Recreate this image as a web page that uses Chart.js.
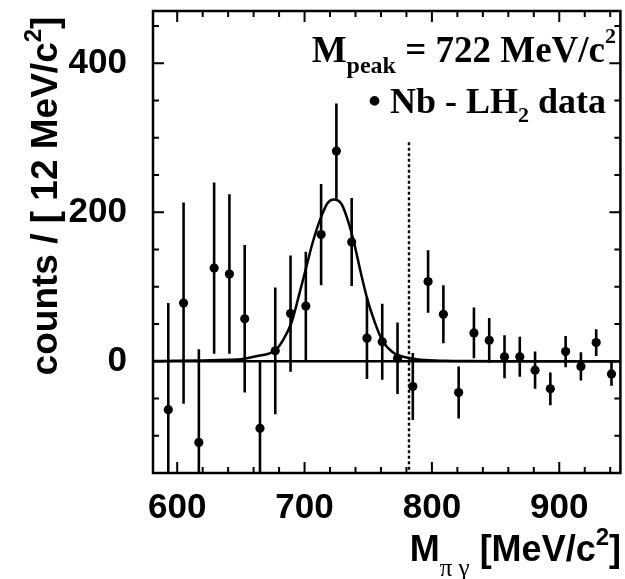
<!DOCTYPE html>
<html>
<head>
<meta charset="utf-8">
<script src="https://cdn.jsdelivr.net/npm/chart.js@4.4.0/dist/chart.umd.min.js"></script>
<style>
html, body { margin: 0; padding: 0; background: #fff; }
#wrap { width: 625px; height: 579px; }
</style>
</head>
<body>
<div id="wrap"><canvas id="massChart" width="625" height="579"></canvas></div>
<script>
// bin centres (12 MeV bins) and the Nb - LH2 counts with their errors
const binCenters = [593, 605, 617, 629, 641, 653, 665, 677, 689, 701, 713, 725, 737, 749, 761,
                    773, 785, 797, 809, 821, 833, 845, 857, 869, 881, 893, 905, 917, 929, 941];
const counts = [-65, 78, -109, 125, 117, 57, -90, 14, 64, 74, 170, 282, 160, 31, 26,
                4, -34, 107, 63, -42, 38, 28, 6, 6, -12, -37, 13, -7, 25, -17];
const countErrors = [143, 135, 125, 115, 107, 99, 91, 85, 78, 73, 68, 64, 59, 55, 51,
                     48, 45, 42, 39, 35, 34, 30, 29, 27, 25, 22, 21, 19, 18, 16];

// fitted peak
const fitMass = [581, 600, 620, 640, 650, 662, 677, 683, 690, 696, 701, 706.5, 712, 718, 723,
                 729, 734, 739, 744, 749.5, 755, 761, 769, 780, 795, 810, 830, 860, 900, 948];
const fitCounts = [0.3, 0.5, 1, 2, 2.7, 6.7, 14.8, 28, 53, 91, 124, 160, 189, 212, 217,
                   211, 189, 158, 120, 82, 53, 28, 12.5, 5, 1.5, 0.7, 0.3, 0.1, 0, 0];

const xTickLabels = [600, 700, 800, 900];
const xMinorTicks = [620, 640, 660, 680, 720, 740, 760, 780, 820, 840, 860, 880, 920, 940];
const yTickLabels = [0, 200, 400];
const yMinorTicks = [-100, -50, 50, 100, 150, 250, 300, 350, 450];

const omegaMass = 782;
const omegaLineTop = 294;

const sans = '"Liberation Sans", Arial, sans-serif';
const serif = '"Liberation Serif", "Times New Roman", serif';

function drawRich(ctx, parts, x, y, align) {
    let total = 0;
    parts.forEach(p => { ctx.font = p.font; p.w = ctx.measureText(p.text).width; total += p.w; });
    let cx = align === 'right' ? x - total : (align === 'center' ? x - total / 2 : x);
    ctx.textAlign = 'left';
    ctx.textBaseline = 'alphabetic';
    parts.forEach(p => { ctx.font = p.font; ctx.fillText(p.text, cx, y + (p.dy || 0)); cx += p.w; });
}

const extras = {
    id: 'extras',
    beforeDatasetsDraw(chart) {
        const {ctx, chartArea: a, scales: {x, y}} = chart;
        ctx.save();
        ctx.beginPath();
        ctx.rect(a.left, a.top, a.right - a.left, a.bottom - a.top);
        ctx.clip();
        ctx.strokeStyle = '#000';
        // zero line
        ctx.lineWidth = 2.5;
        ctx.beginPath();
        ctx.moveTo(a.left, y.getPixelForValue(0));
        ctx.lineTo(a.right, y.getPixelForValue(0));
        ctx.stroke();
        // omega mass marker
        ctx.lineWidth = 2.4;
        ctx.setLineDash([3, 2.5]);
        ctx.beginPath();
        ctx.moveTo(x.getPixelForValue(omegaMass), y.getPixelForValue(omegaLineTop));
        ctx.lineTo(x.getPixelForValue(omegaMass), a.bottom);
        ctx.stroke();
        ctx.setLineDash([]);
        // error bars
        ctx.lineWidth = 2.6;
        binCenters.forEach((m, i) => {
            const px = x.getPixelForValue(m);
            ctx.beginPath();
            ctx.moveTo(px, y.getPixelForValue(counts[i] - countErrors[i]));
            ctx.lineTo(px, y.getPixelForValue(counts[i] + countErrors[i]));
            ctx.stroke();
        });
        ctx.restore();
    },
    afterDraw(chart) {
        const {ctx, chartArea: a, scales: {x, y}} = chart;
        ctx.save();
        ctx.strokeStyle = '#000';
        ctx.fillStyle = '#000';
        // inward ticks on all four sides
        ctx.lineWidth = 2;
        const vt = (v, len) => {
            const px = x.getPixelForValue(v);
            ctx.beginPath();
            ctx.moveTo(px, a.bottom); ctx.lineTo(px, a.bottom - len);
            ctx.moveTo(px, a.top); ctx.lineTo(px, a.top + len);
            ctx.stroke();
        };
        const ht = (v, len) => {
            const py = y.getPixelForValue(v);
            ctx.beginPath();
            ctx.moveTo(a.left, py); ctx.lineTo(a.left + len, py);
            ctx.moveTo(a.right, py); ctx.lineTo(a.right - len, py);
            ctx.stroke();
        };
        xTickLabels.forEach(v => vt(v, 11));
        xMinorTicks.forEach(v => vt(v, 6));
        yTickLabels.forEach(v => ht(v, 11));
        yMinorTicks.forEach(v => ht(v, 6));
        // frame
        ctx.lineWidth = 2.5;
        ctx.strokeRect(a.left, a.top, a.right - a.left, a.bottom - a.top);

        // axis titles
        drawRich(ctx, [
            {text: 'M', font: 'bold 36px ' + sans},
            {text: '\u03c0 \u03b3', font: '25px ' + serif, dy: 15},
            {text: ' [MeV/c', font: 'bold 36px ' + sans},
            {text: '2', font: 'bold 24px ' + sans, dy: -16},
            {text: ']', font: 'bold 36px ' + sans}
        ], 621, 561, 'right');

        ctx.save();
        ctx.translate(57, 196);
        ctx.rotate(-Math.PI / 2);
        drawRich(ctx, [
            {text: 'counts / [ 12 MeV/c', font: 'bold 37px ' + sans},
            {text: '2', font: 'bold 24px ' + sans, dy: -16},
            {text: ']', font: 'bold 37px ' + sans}
        ], 0, 0, 'center');
        ctx.restore();

        // legend text
        drawRich(ctx, [
            {text: 'M', font: 'bold 37px ' + serif},
            {text: 'peak', font: 'bold 24px ' + serif, dy: 11},
            {text: ' = 722 MeV/c', font: 'bold 37px ' + serif},
            {text: '2', font: 'bold 22px ' + serif, dy: -19}
        ], 616, 62, 'right');
        drawRich(ctx, [
            {text: '\u2022 Nb - LH', font: 'bold 36px ' + serif},
            {text: '2', font: 'bold 22px ' + serif, dy: 9},
            {text: ' data', font: 'bold 36px ' + serif}
        ], 606, 113, 'right');
        ctx.restore();
    }
};

const chart = new Chart(document.getElementById('massChart'), {
    type: 'scatter',
    data: {
        datasets: [{
            label: 'fit',
            data: fitMass.map((m, i) => ({x: m, y: fitCounts[i]})),
            showLine: true,
            borderColor: '#000',
            borderWidth: 2.5,
            pointRadius: 0,
            cubicInterpolationMode: 'monotone',
            fill: false
        }, {
            label: 'Nb - LH2 data',
            data: binCenters.map((m, i) => ({x: m, y: counts[i]})),
            showLine: false,
            pointRadius: 4.6,
            pointBackgroundColor: '#000',
            pointBorderColor: '#000',
            pointBorderWidth: 0
        }]
    },
    options: {
        responsive: false,
        animation: false,
        devicePixelRatio: 1,
        layout: { padding: { top: 11, right: 3, left: 0, bottom: 0 } },
        plugins: { legend: { display: false }, tooltip: { enabled: false } },
        scales: {
            x: {
                type: 'linear', min: 581, max: 948,
                grid: { display: false }, border: { display: false },
                afterBuildTicks: s => { s.ticks = xTickLabels.map(v => ({value: v})); },
                afterFit: s => { s.height = 106; s.paddingLeft = 0; s.paddingRight = 0; },
                ticks: { font: { family: sans, size: 35, weight: 'bold' }, color: '#000',
                         padding: 6, maxRotation: 0, autoSkip: false }
            },
            y: {
                type: 'linear', min: -150, max: 470,
                grid: { display: false }, border: { display: false },
                afterBuildTicks: s => { s.ticks = yTickLabels.map(v => ({value: v})); },
                afterFit: s => { s.width = 153; s.paddingTop = 0; s.paddingBottom = 0; },
                ticks: { font: { family: sans, size: 35, weight: 'bold' }, color: '#000',
                         padding: 18, autoSkip: false }
            }
        }
    },
    plugins: [extras]
});
</script>
</body>
</html>
